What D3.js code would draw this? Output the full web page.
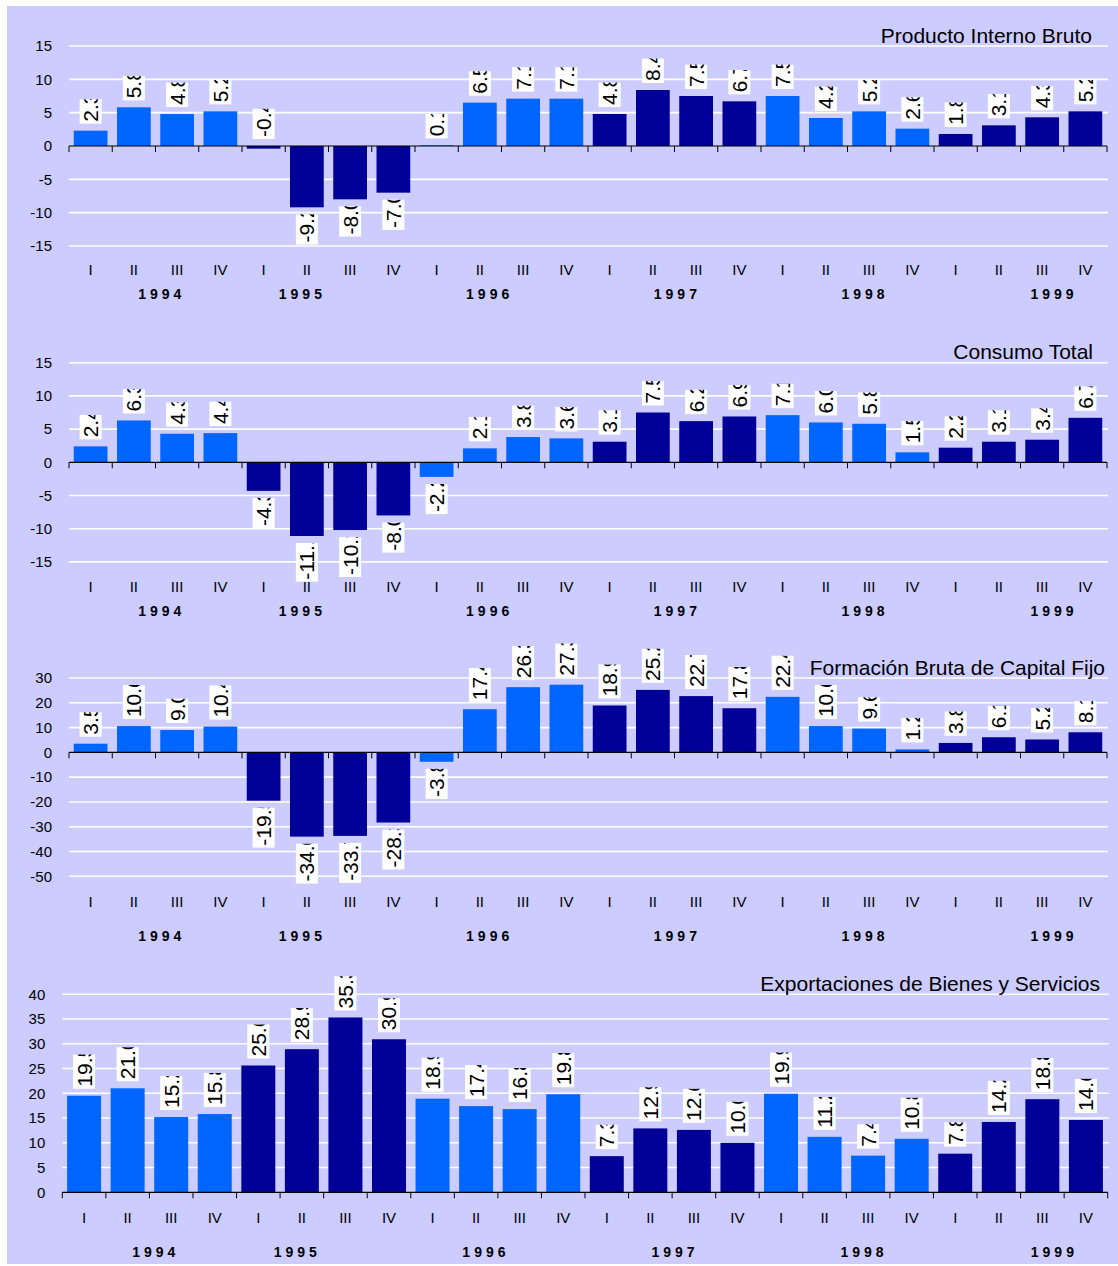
<!DOCTYPE html>
<html>
<head>
<meta charset="utf-8">
<script src="https://cdn.jsdelivr.net/npm/d3@7"></script>
<style>
  html, body { margin: 0; padding: 0; background: #ffffff; }
  svg { display: block; }
  text { font-family: Arial, "Liberation Sans", sans-serif; }
</style>
</head>
<body>
<svg id="chart" width="1118" height="1266"></svg>
<script>
// ---------------- data ----------------
const quarters = ["I", "II", "III", "IV"];
const years = ["1994", "1995", "1996", "1997", "1998", "1999"];

const pibTitle = "Producto Interno Bruto";
const pibValues = [2.3, 5.8, 4.8, 5.2, -0.4, -9.2, -8.0, -7.0, 0.1, 6.5, 7.1, 7.1,
                   4.8, 8.4, 7.5, 6.7, 7.5, 4.2, 5.2, 2.6, 1.8, 3.1, 4.3, 5.2];
const pibTicks = [-15, -10, -5, 0, 5, 10, 15];

const consumoTitle = "Consumo Total";
const consumoValues = [2.4, 6.3, 4.3, 4.4, -4.3, -11.1, -10.2, -8.0, -2.2, 2.1, 3.8, 3.6,
                       3.1, 7.5, 6.2, 6.9, 7.1, 6.0, 5.8, 1.5, 2.2, 3.1, 3.4, 6.7];
const consumoTicks = [-15, -10, -5, 0, 5, 10, 15];

const fbkfTitle = "Formación Bruta de Capital Fijo";
const fbkfValues = [3.5, 10.6, 9.0, 10.4, -19.5, -34.0, -33.7, -28.3, -3.8, 17.4, 26.3, 27.3,
                    18.9, 25.2, 22.7, 17.8, 22.4, 10.6, 9.6, 1.2, 3.8, 6.1, 5.2, 8.1];
const fbkfTicks = [-50, -40, -30, -20, -10, 0, 10, 20, 30];

const exportTitle = "Exportaciones de Bienes y Servicios";
const exportValues = [19.5, 21.0, 15.2, 15.8, 25.6, 28.9, 35.3, 30.9, 18.9, 17.4, 16.8, 19.8,
                      7.3, 12.9, 12.6, 10.0, 19.9, 11.2, 7.4, 10.8, 7.8, 14.2, 18.8, 14.6];
const exportTicks = [0, 5, 10, 15, 20, 25, 30, 35, 40];

// ---------------- layout ----------------
const COLOR_LIGHT = "#0066FF";
const COLOR_DARK = "#000099";
const BG = "#CCCCFF";
const yearLabelPos = [2.1, 5.35, 9.68, 14.02, 18.36, 22.73]; // in band units

const panels = [
  { title: pibTitle, values: pibValues, ticks: pibTicks, x0: 69, x1: 1107,
    yTop: 46, yBot: 246, titleX: 1092, titleY: 43, qY: 275, yearY: 299 },
  { title: consumoTitle, values: consumoValues, ticks: consumoTicks, x0: 69, x1: 1107,
    yTop: 362.7, yBot: 561.9, titleX: 1093, titleY: 359, qY: 591.5, yearY: 615.5 },
  { title: fbkfTitle, values: fbkfValues, ticks: fbkfTicks, x0: 69, x1: 1107,
    yTop: 678, yBot: 876.3, titleX: 1105, titleY: 675, qY: 907, yearY: 941 },
  { title: exportTitle, values: exportValues, ticks: exportTicks, x0: 62.3, x1: 1107.7,
    yTop: 994.2, yBot: 1192.3, titleX: 1100, titleY: 990.5, qY: 1223, yearY: 1257 }
];

const svg = d3.select("#chart");
svg.append("rect").attr("x", 7).attr("y", 6).attr("width", 1111).attr("height", 1258).attr("fill", BG);

const categories = [];
years.forEach(yr => quarters.forEach(q => categories.push({ year: yr, q: q })));

let clipId = 0;

panels.forEach((p, pi) => {
  const g = svg.append("g");
  const n = categories.length;
  const x = d3.scaleBand().domain(d3.range(n)).range([p.x0, p.x1])
    .paddingInner(0.22).paddingOuter(0.11);
  const step = (p.x1 - p.x0) / n;
  const y = d3.scaleLinear().domain([d3.min(p.ticks), d3.max(p.ticks)]).range([p.yBot, p.yTop]);

  // gridlines
  g.append("g").selectAll("line").data(p.ticks.filter(t => t !== 0)).join("line")
    .attr("x1", p.x0).attr("x2", p.x1 + 1)
    .attr("y1", d => y(d)).attr("y2", d => y(d))
    .attr("stroke", "#ffffff").attr("stroke-width", 1.6);

  // y axis labels
  const yAxis = d3.axisLeft(y).tickValues(p.ticks).tickSize(0).tickPadding(0)
    .tickFormat(d => String(d));
  const ya = g.append("g").attr("transform", `translate(${p.x0 - 17},0)`).call(yAxis);
  ya.select(".domain").remove();
  ya.selectAll("text").attr("font-size", 15).attr("fill", "#000")
    .style("font-family", "Arial, 'Liberation Sans', sans-serif");

  // bars
  g.append("g").selectAll("rect").data(p.values).join("rect")
    .attr("x", (d, i) => x(i))
    .attr("width", x.bandwidth())
    .attr("y", d => Math.min(y(d), y(0)))
    .attr("height", d => Math.abs(y(d) - y(0)))
    .attr("fill", (d, i) => (years.indexOf(categories[i].year) % 2 === 0) ? COLOR_LIGHT : COLOR_DARK);

  // zero axis line + ticks
  g.append("line").attr("x1", p.x0).attr("x2", p.x1).attr("y1", y(0)).attr("y2", y(0))
    .attr("stroke", "#000").attr("stroke-width", 1.2);
  g.append("g").selectAll("line").data(d3.range(n + 1)).join("line")
    .attr("x1", i => p.x0 + i * step).attr("x2", i => p.x0 + i * step)
    .attr("y1", y(0)).attr("y2", y(0) + 6)
    .attr("stroke", "#000").attr("stroke-width", 1);

  // title
  g.append("text").attr("x", p.titleX).attr("y", p.titleY)
    .attr("text-anchor", "end").attr("font-size", 21).attr("fill", "#000").text(p.title);

  // data labels (rotated, white boxes, clipped)
  const lg = g.append("g");
  p.values.forEach((v, i) => {
    const cx = x(i) + x.bandwidth() / 2;
    const txt = v.toFixed(1);
    const lab = lg.append("g");
    const t = lab.append("text").attr("x", 2).attr("y", 7.5)
      .attr("font-size", 21).attr("fill", "#000").text(txt);
    const L = t.node().getComputedTextLength() * 0.835;
    let anchorY;
    if (v >= 0) anchorY = y(v) - 7;
    else if (v > -1) anchorY = y(0) - 7;
    else anchorY = y(v) + 7 + L;
    lab.attr("transform", `translate(${cx},${anchorY}) rotate(-90)`);
    const id = "lc" + (clipId++);
    lab.append("clipPath").attr("id", id)
      .append("rect").attr("x", 0).attr("y", -11).attr("width", L).attr("height", 22);
    lab.insert("rect", "text").attr("x", 0).attr("y", -11).attr("width", L).attr("height", 22)
      .attr("fill", "#ffffff");
    t.attr("clip-path", `url(#${id})`);
  });

  // quarter labels
  g.append("g").selectAll("text").data(categories).join("text")
    .attr("x", (d, i) => x(i) + x.bandwidth() / 2)
    .attr("y", p.qY)
    .attr("text-anchor", "middle").attr("font-size", 15).attr("fill", "#000")
    .text(d => d.q);

  // year labels
  g.append("g").selectAll("text").data(years).join("text")
    .attr("x", (d, i) => p.x0 + yearLabelPos[i] * step + 2)
    .attr("y", p.yearY)
    .attr("text-anchor", "middle").attr("font-size", 14).attr("font-weight", "bold")
    .attr("letter-spacing", 4).attr("fill", "#000")
    .text(d => d);
});
</script>
</body>
</html>
